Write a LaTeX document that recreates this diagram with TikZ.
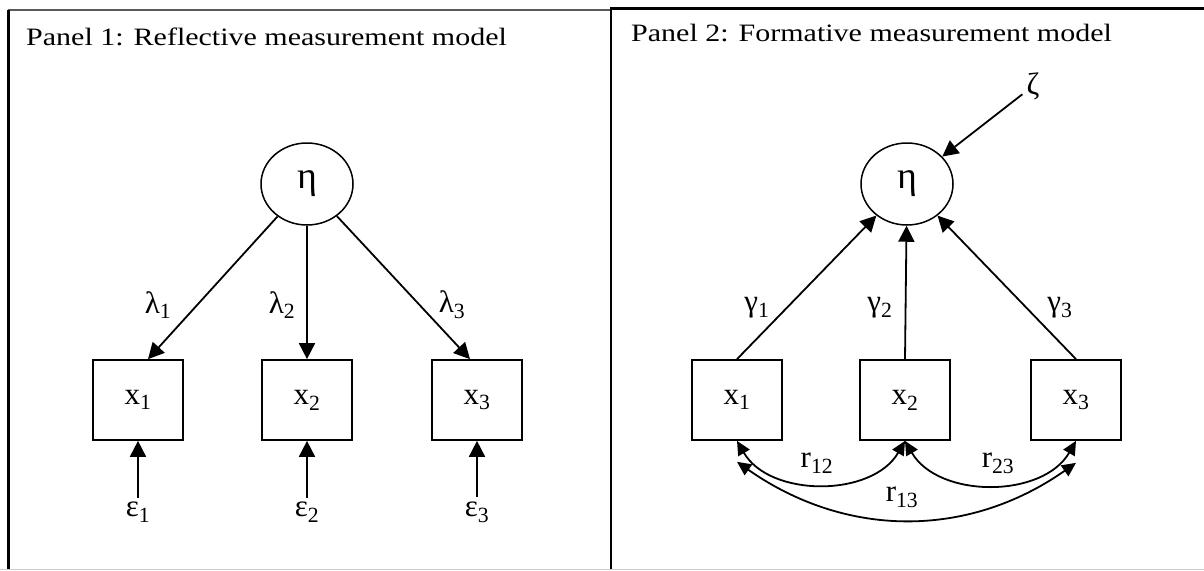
\documentclass[tikz,border=0pt]{standalone}
\usepackage{fontspec}
\setmainfont{Liberation Serif}
\newfontfamily\titlefont{Liberation Serif}[FakeStretch=1.2]
\usetikzlibrary{arrows.meta,shapes.geometric}

\begin{document}
\begin{tikzpicture}[x=1pt,y=-1pt,
        latent/.style={draw, ellipse, line width=1.5pt, minimum width=92pt, minimum height=82pt, inner sep=0pt, font=\fontsize{38}{40}\selectfont},
        manifest/.style={draw, rectangle, line width=1.7pt, minimum width=90pt, minimum height=80pt},
        lbl/.style={inner sep=1pt, font=\fontsize{31}{34}\selectfont},
        paneltitle/.style={anchor=base west, inner sep=0pt, font=\titlefont\fontsize{25}{30}\selectfont},
        arr/.style={-{Triangle[length=16pt,width=16pt]}, line width=1.8pt},
        cov/.style={{Triangle[length=14pt,width=13pt]}-{Triangle[length=14pt,width=13pt]}, line width=1.8pt}]
    \useasboundingbox (0,0) rectangle (1204,570);

    %frames
    \draw[line width=2pt, black!65] (8,10) -- (611,10);
    \draw[line width=3pt] (8,10) -- (8,570);
    \draw[line width=2.5pt] (611,7) -- (611,570);
    \draw[line width=3pt] (611,8) -- (1204,8);
    \draw[line width=1.5pt, black!20] (0,569.5) -- (1204,569.5);

    %Panel 1
    \node[paneltitle] (title1) at (26,45) {Panel 1: Reflective measurement model};
    \node[latent] (eta1) at (307,184) {η};
    \node[manifest, lbl] (x11) at (138,400) {x\textsubscript{1}};
    \node[manifest, lbl] (x12) at (307,400) {x\textsubscript{2}};
    \node[manifest, lbl] (x13) at (477,400) {x\textsubscript{3}};
    \node[lbl, inner sep=4pt] (eps1) at (138,512) {ε\textsubscript{1}};
    \node[lbl, inner sep=4pt] (eps2) at (307,512) {ε\textsubscript{2}};
    \node[lbl, inner sep=4pt] (eps3) at (477,512) {ε\textsubscript{3}};
    \draw[arr] (eta1) -- ([xshift=10pt]x11.north);
    \draw[arr] (eta1) -- (x12);
    \draw[arr] (eta1) -- ([xshift=-7pt]x13.north);
    \draw[arr] (eps1) -- (x11);
    \draw[arr] (eps2) -- (x12);
    \draw[arr] (eps3) -- (x13);
    \node[lbl] (lam1) at (158,305) {λ\textsubscript{1}};
    \node[lbl] (lam2) at (282,305) {λ\textsubscript{2}};
    \node[lbl] (lam3) at (452,305) {λ\textsubscript{3}};

    %Panel 2
    \node[paneltitle] (title2) at (631,41) {Panel 2: Formative measurement model};
    \node[latent] (eta2) at (907,184) {η};
    \node[lbl, inner sep=4pt] (zeta) at (1033,86) {ζ};
    \node[manifest, lbl] (x21) at (737,400) {x\textsubscript{1}};
    \node[manifest, lbl] (x22) at (905,400) {x\textsubscript{2}};
    \node[manifest, lbl] (x23) at (1076,400) {x\textsubscript{3}};
    \draw[arr] (zeta) -- (eta2);
    \draw[arr] (x21.north) -- (eta2);
    \draw[arr] (x22.north) -- (eta2);
    \draw[arr] (x23.north) -- (eta2);
    \node[lbl] (gam1) at (757,308) {γ\textsubscript{1}};
    \node[lbl] (gam2) at (880,308) {γ\textsubscript{2}};
    \node[lbl] (gam3) at (1060,308) {γ\textsubscript{3}};

    %correlations
    \coordinate (low1) at ([yshift=-21pt]x21.south);
    \coordinate (low3) at ([yshift=-22pt]x23.south);
    \draw[cov] (x21.south) to[out=-60, in=-120] (x22.south);
    \draw[cov] (x22.south) to[out=-60, in=-120] (x23.south);
    \draw[cov] (low1) to[out=-35, in=-145] (low3);
    \node[lbl] (r12) at (817,463) {r\textsubscript{12}};
    \node[lbl] (r23) at (998,463) {r\textsubscript{23}};
    \node[lbl] (r13) at (902,497) {r\textsubscript{13}};
\end{tikzpicture}
\end{document}
